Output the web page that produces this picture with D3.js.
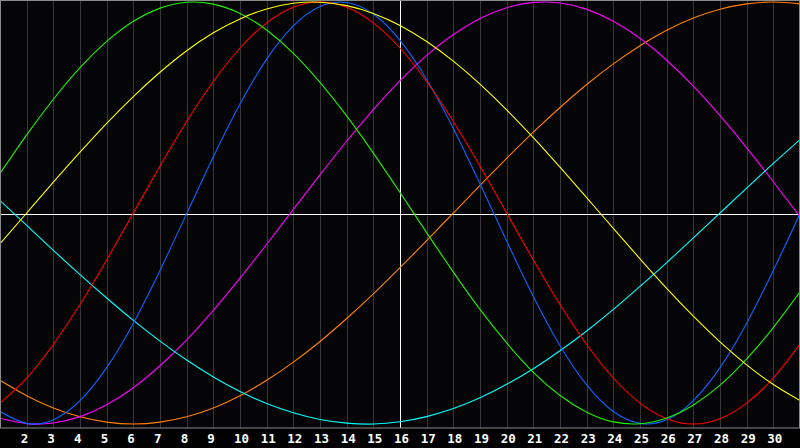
<!DOCTYPE html>
<html>
<head>
<meta charset="utf-8">
<script src="https://cdn.jsdelivr.net/npm/d3@7"></script>
<style>
  html, body { margin: 0; padding: 0; background: #000; }
  svg { display: block; }
</style>
</head>
<body>
<div id="chart"></div>
<script>
// days shown on the x axis
const days = d3.range(1, 32);
const dayLabels = d3.range(2, 31);
const today = 16;

// cycle values, one per day (1..31), range -1..1
const green = [0.187, 0.370, 0.539, 0.689, 0.813, 0.909, 0.971, 0.999, 0.990, 0.946, 0.867, 0.757, 0.619, 0.460, 0.284, 0.097,
  -0.093, -0.280, -0.457, -0.616, -0.755, -0.865, -0.944, -0.990, -0.999, -0.972, -0.910, -0.816, -0.691, -0.543, -0.374];
const red = [-0.901, -0.782, -0.623, -0.434, -0.223, 0.000, 0.223, 0.434, 0.623, 0.782, 0.901, 0.975, 1.000, 0.975, 0.901, 0.782,
  0.623, 0.434, 0.223, 0.000, -0.223, -0.434, -0.623, -0.782, -0.901, -0.975, -1.000, -0.975, -0.901, -0.782, -0.623];
const blue = [-0.941, -0.997, -0.980, -0.889, -0.733, -0.522, -0.272, -0.003, 0.267, 0.517, 0.729, 0.887, 0.979, 0.998, 0.943, 0.818,
  0.633, 0.401, 0.139, -0.133, -0.396, -0.629, -0.815, -0.941, -0.997, -0.980, -0.889, -0.733, -0.522, -0.272, -0.003];
const yellow = [-0.146, 0.000, 0.146, 0.288, 0.425, 0.552, 0.667, 0.769, 0.854, 0.920, 0.967, 0.994, 0.999, 0.983, 0.946, 0.889,
  0.813, 0.720, 0.611, 0.489, 0.357, 0.217, 0.073, -0.073, -0.217, -0.357, -0.489, -0.611, -0.720, -0.813, -0.889];
const magenta = [-0.973, -0.998, -0.995, -0.965, -0.909, -0.828, -0.724, -0.601, -0.461, -0.309, -0.148, 0.017, 0.181, 0.340, 0.490, 0.627,
  0.747, 0.846, 0.922, 0.973, 0.998, 0.995, 0.965, 0.909, 0.828, 0.724, 0.601, 0.461, 0.309, 0.148, -0.017];
const orange = [-0.793, -0.866, -0.924, -0.966, -0.991, -1.000, -0.991, -0.966, -0.924, -0.866, -0.793, -0.707, -0.609, -0.500, -0.383, -0.259,
  -0.131, 0.000, 0.131, 0.259, 0.383, 0.500, 0.609, 0.707, 0.793, 0.866, 0.924, 0.966, 0.991, 1.000, 0.991];
const cyan = [0.059, -0.059, -0.177, -0.292, -0.403, -0.509, -0.607, -0.697, -0.777, -0.846, -0.903, -0.947, -0.979, -0.996, -1.000, -0.989,
  -0.965, -0.927, -0.876, -0.812, -0.738, -0.653, -0.559, -0.457, -0.348, -0.235, -0.118, 0.000, 0.118, 0.235, 0.348];

const width = 800, height = 448;
const plotBottom = 428;

const series = [
  { values: orange, color: '#ff8000' },
  { values: magenta, color: '#ff00ff' },
  { values: cyan, color: '#00ffff' },
  { values: blue, color: '#0a64ff' },
  { values: red, color: '#ff0000' },
  { values: green, color: '#22ee00' },
  { values: yellow, color: '#ffff00' }
];

const x = d3.scaleLinear().domain([1, 31]).range([0, 800]);
const y = d3.scaleLinear().domain([-1, 1]).range([424, 2]);

const svg = d3.select('#chart')
  .append('svg')
  .attr('width', width)
  .attr('height', height);

svg.append('rect')
  .attr('width', width)
  .attr('height', height)
  .attr('fill', '#000000');

svg.append('rect')
  .attr('x', 0).attr('y', 0)
  .attr('width', width).attr('height', plotBottom)
  .attr('fill', '#050508');

// day grid
svg.append('g')
  .selectAll('line')
  .data(days.filter(d => d > 1 && d < 31 && d !== today))
  .join('line')
  .attr('x1', d => Math.round(x(d)) + 0.5)
  .attr('x2', d => Math.round(x(d)) + 0.5)
  .attr('y1', 0)
  .attr('y2', plotBottom)
  .attr('stroke', '#37373b')
  .attr('stroke-width', 1);

// zero line and today line
svg.append('line')
  .attr('x1', 0).attr('x2', width)
  .attr('y1', 214.5).attr('y2', 214.5)
  .attr('stroke', '#ffffff');

svg.append('line')
  .attr('x1', Math.round(x(today)) + 0.5).attr('x2', Math.round(x(today)) + 0.5)
  .attr('y1', 0).attr('y2', plotBottom)
  .attr('stroke', '#ffffff');

const line = d3.line()
  .x((d, i) => x(days[i]))
  .y(d => y(d))
  .curve(d3.curveNatural);

svg.append('g')
  .selectAll('path')
  .data(series)
  .join('path')
  .attr('d', s => line(s.values))
  .attr('fill', 'none')
  .attr('stroke', s => s.color)
  .attr('stroke-width', 1.1);

// frame
svg.append('rect')
  .attr('x', 0.5).attr('y', 0.5)
  .attr('width', width - 1).attr('height', plotBottom - 0.5)
  .attr('fill', 'none')
  .attr('stroke', '#8a8a8a')
  .attr('stroke-width', 1);

// day labels
svg.append('g')
  .selectAll('text')
  .data(dayLabels)
  .join('text')
  .attr('x', d => x(d) - 6)
  .attr('y', 443)
  .attr('fill', '#ffffff')
  .attr('font-family', 'DejaVu Sans Mono, monospace')
  .attr('font-weight', 'bold')
  .attr('font-size', 12.5)
  .text(d => d);
</script>
</body>
</html>
